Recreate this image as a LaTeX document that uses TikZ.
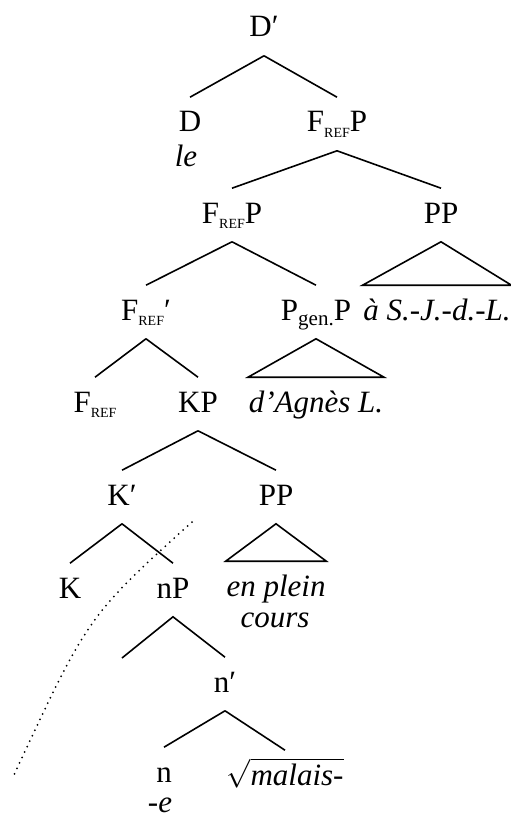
\documentclass[tikz,border=0pt]{standalone}
\usepackage{fontspec}
\setmainfont{Liberation Serif}
\newcommand{\Fref}{F\raisebox{-2.8pt}{\fontsize{7}{7}\selectfont REF}}
\newcommand{\Pgen}{P\raisebox{-2.5pt}{\fontsize{10.5}{11}\selectfont gen.}}

\begin{document}
\begin{tikzpicture}[x=0.5pt,y=-0.5pt,line width=.8pt,
  cat/.style={anchor=base,inner sep=0pt,text height=17pt,text depth=9pt,font=\fontsize{15.5}{18}\selectfont},
  leaf/.style={cat,font=\fontsize{15.5}{18}\selectfont\itshape},
  note/.style={anchor=base,inner sep=0pt,font=\fontsize{15.5}{18}\selectfont\itshape}]
\useasboundingbox (0,0) rectangle (510,818);
% categories, one row per level
\node[cat] (dbar) at (264,37) {D′};
\node[cat] (d) at (190,132) {D};\node[note] (le) at (186,167) {le};
\node[cat] (frefp) at (337,132) {\Fref P};
\node[cat] (frefpb) at (232,223) {\Fref P};\node[cat] (ppa) at (441,223) {PP};
\node[cat] (frefbar) at (146,320) {\Fref′};\node[cat] (pgenp) at (316,320) {\Pgen P};
\node[leaf] (sjdl) at (437,320) {à S.-J.-d.-L.};
\node[cat] (fref) at (95,412) {\Fref};\node[cat] (kp) at (198,412) {KP};
\node[leaf] (agnes) at (316,412) {d’Agnès L.};
\node[cat] (kbar) at (122,505) {K′};\node[cat] (ppb) at (276,505) {PP};
\node[cat] (k) at (70,598) {K};\node[cat] (np) at (173,598) {nP};
\node[leaf] (plein) at (276,596) {en plein};\node[note] (cours) at (275,627) {cours};
\coordinate (nempty) at (122,658);\node[cat] (nbar) at (225,692) {n′};
\node[cat,text depth=0pt] (n) at (164,782) {n};\node[cat,text depth=0pt] (root) at (285,785) {$\sqrt{\textit{malais-}}$};
\node[note] (suff) at (160,812) {\upshape-\itshape e};
% branches
\foreach \p/\c in {dbar/d,dbar/frefp,frefp/frefpb,frefp/ppa,frefpb/frefbar,frefpb/pgenp,frefbar/fref,frefbar/kp,kp/kbar,kp/ppb,kbar/k,kbar/np,nbar/n,nbar/root}
  \draw (\p.south)--(\c.north);
\draw (nempty)--(np.south)--(nbar.north);
\foreach \p/\c in {ppa/sjdl,pgenp/agnes,ppb/plein}
  \draw (\c.north west)--(\p.south)--(\c.north east)--cycle;
\draw[line width=1pt,line cap=round,dash pattern=on 0pt off 3pt] (192,522) .. controls (88,616) .. (13,777);
\end{tikzpicture}
\end{document}
